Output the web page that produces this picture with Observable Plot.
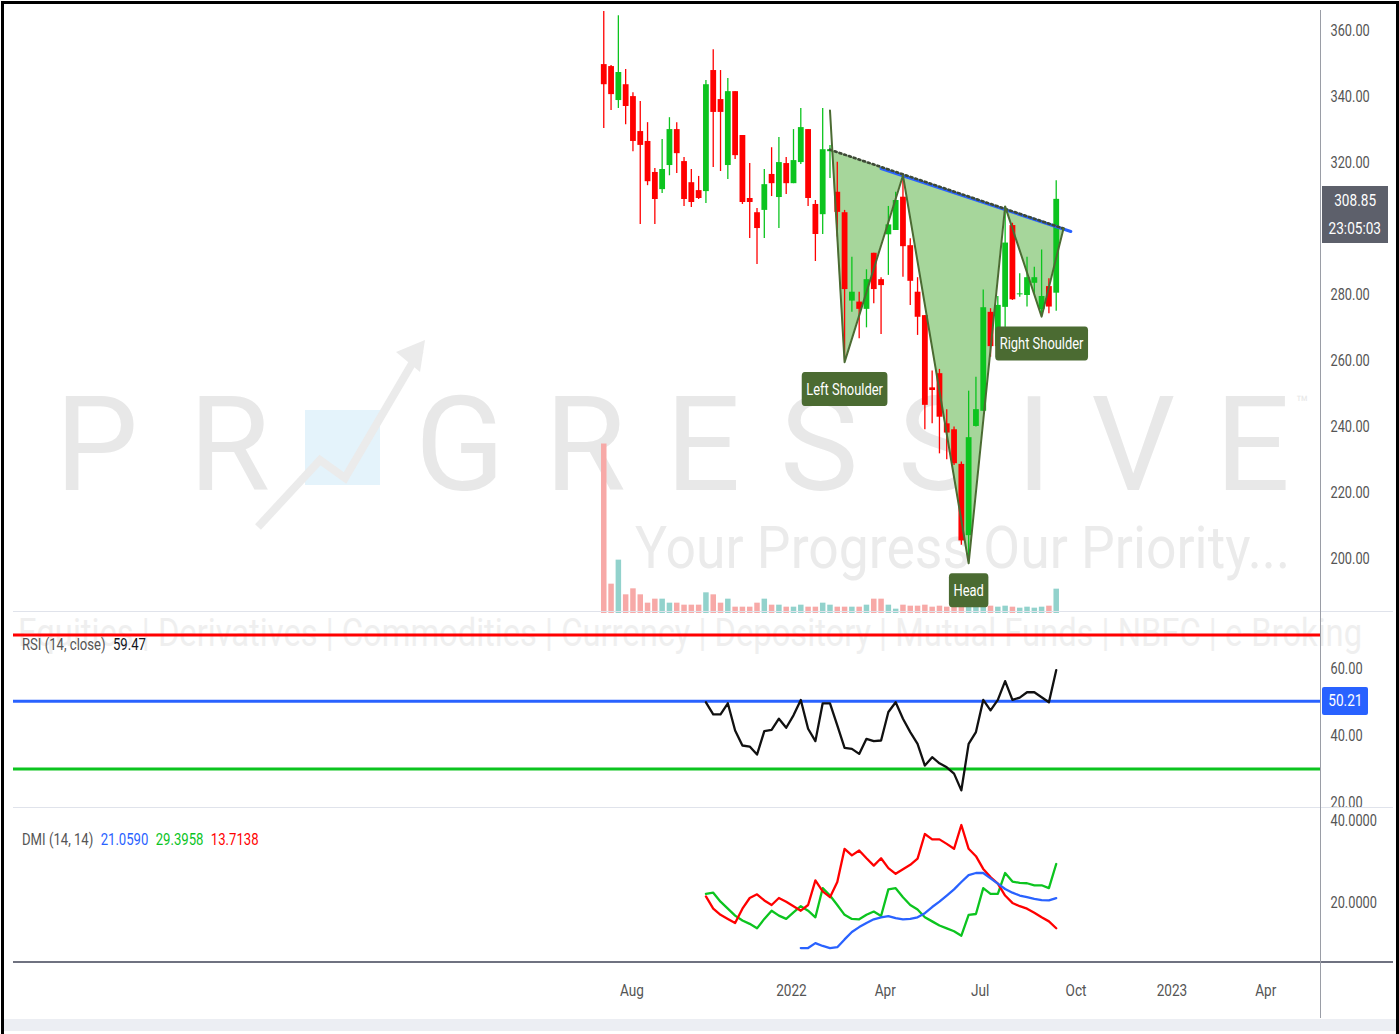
<!DOCTYPE html>
<html><head><meta charset="utf-8">
<script src="https://cdn.jsdelivr.net/npm/d3@7"></script>
<script src="https://cdn.jsdelivr.net/npm/@observablehq/plot@0.6"></script>
<style>
html,body{margin:0;padding:0;background:#fff;}
#root{position:relative;width:1399px;height:1034px;overflow:hidden;background:#fff;font-family:Roboto,sans-serif;}
.abs{position:absolute;}
.panel svg{overflow:hidden;display:block;}
.legend{position:absolute;left:22px;font-size:16px;color:#555;white-space:nowrap;z-index:3;transform:scaleX(0.82);transform-origin:0 0;}
.legend span{margin-left:9px;}
.tag{position:absolute;color:#fff;font-size:16px;text-align:center;z-index:3;line-height:27px;}
.tag span{display:inline-block;transform:scaleX(0.8);}
</style></head>
<body><div id="root"></div>
<script>
// ---------------- DATA ----------------
const weekStart = "2021-07-05"; // first weekly candle (Monday)
const opens  = [349.7,349.1,338.8,343.6,340.0,329.4,326.4,317.0,311.8,319.1,
                330.0,320.3,313.9,311.5,311.2,347.9,339.1,319.1,341.5,328.2,
                309.1,304.8,305.5,316.4,309.4,319.7,313.6,320.0,330.0,307.3,
                304.2,323.3,311.0,304.8,278.0,277.7,275.5,292.5,284.5,298.1,
                299.4,309.5,294.8,280.7,273.6,251.7,256.0,240.8,239.0,228.5,
                206.9,240.0,244.6,274.6,264.2,276.1,300.9,279.9,279.7,283.4,
                275.4,282.4,280.4];
const highs  = [365.8,349.4,364.5,348.2,341.2,338.5,332.1,318.2,327.0,333.6,
                332.1,321.5,317.9,315.8,344.9,354.2,347.9,345.5,341.5,328.2,
                319.7,306.1,317.9,324.5,327.6,321.5,330.0,336.4,330.0,308.5,
                336.4,325.2,320.1,305.5,291.3,280.7,287.5,292.5,285.1,306.7,
                311.0,316.1,296.9,285.1,273.6,256.8,257.3,245.1,239.8,229.2,
                250.7,254.9,281.4,275.7,279.4,306.7,301.6,286.3,291.3,288.3,
                293.5,284.8,314.5];
const lows   = [330.3,335.8,336.4,331.5,323.3,301.2,313.0,301.2,310.6,316.0,
                316.7,306.7,306.4,308.8,307.6,318.5,317.3,314.9,320.9,307.3,
                297.0,289.1,297.0,309.7,300.0,310.3,313.6,319.4,306.7,290.0,
                298.2,315.2,297.4,260.0,274.6,266.6,269.9,277.2,267.9,285.8,
                299.4,285.2,276.7,267.6,239.0,240.8,231.7,229.9,228.2,204.0,
                198.6,239.8,244.6,261.0,263.0,262.2,278.2,279.2,276.2,280.2,
                273.6,274.2,274.9];
const closes = [343.6,340.6,347.3,337.0,326.4,325.2,314.2,308.8,317.9,330.0,
                322.7,308.8,307.9,309.1,343.6,335.2,335.2,341.5,322.1,307.9,
                307.9,300.0,313.3,313.6,320.0,313.6,320.6,330.6,309.1,298.2,
                323.9,323.9,304.9,281.5,280.7,275.5,284.5,281.5,282.7,301.1,
                308.5,294.5,284.0,273.1,246.4,250.9,242.8,238.0,228.7,205.3,
                236.6,245.1,276.0,264.2,276.7,295.6,278.4,280.2,285.1,285.1,
                279.4,276.2,308.85];
const volumes = [2540,440,800,280,370,280,155,215,215,155,
                 155,125,125,125,310,280,155,215,95,95,
                 95,155,215,125,125,95,95,125,95,95,
                 155,125,95,95,95,95,125,215,215,125,
                 65,125,110,110,125,95,110,95,95,140,
                 125,95,110,110,95,110,95,80,95,80,
                 95,110,365];

const rsiStartIndex = 14;
const rsiValues = [49.9,46.3,46.3,49.6,41.5,37.0,36.7,34.3,41.3,41.7,
                   45.0,42.3,46.0,50.6,42.0,38.3,49.6,49.6,43.0,36.3,
                   36.0,34.5,39.0,38.3,38.5,47.0,49.9,45.0,41.0,37.5,
                   31.0,33.5,31.7,30.5,28.6,23.6,37.5,41.0,50.6,47.5,
                   50.6,56.2,50.6,51.3,52.9,52.9,51.4,49.9,59.47];
const rsiLevels = [70, 50.21, 30];
const rsiLevelColors = ["#ff0000", "#2962ff", "#0cc41f"];

const diStartIndex = 14;
const plusDI  = [22.1,22.4,20.2,18.5,16.8,15.6,14.8,13.7,16.0,18.0,
                 16.8,16.0,17.6,19.1,18.0,16.4,23.5,21.7,19.4,17.0,
                 16.0,15.9,17.0,17.8,16.7,23.2,23.5,21.3,19.4,18.3,
                 16.4,15.4,14.4,13.7,13.0,11.9,17.0,17.2,23.5,22.1,
                 22.1,27.2,25.1,24.8,24.7,24.2,24.2,23.5,29.3958];
const minusDI = [21.5,18.5,17.0,16.0,15.0,18.5,21.1,22.0,20.5,19.4,
                 21.1,20.2,19.1,18.0,19.4,25.4,22.7,21.3,25.0,33.1,
                 31.5,32.7,30.8,29.0,30.8,28.4,27.0,28.1,29.2,30.7,
                 36.7,35.4,35.4,34.3,33.1,38.9,33.1,31.3,28.2,26.2,
                 24.6,21.7,19.9,19.1,18.5,17.5,16.4,15.4,13.7138];
const adxStartIndex = 27;
const adxValues = [8.9,8.9,10.1,9.4,8.9,9.1,11.0,12.8,14.0,15.0,
                   15.9,16.4,16.7,16.2,15.9,16.0,16.4,17.4,18.9,20.2,
                   21.7,23.2,25.0,26.7,27.2,27.2,25.9,24.6,23.3,22.4,
                   21.7,21.3,20.9,20.6,20.5,21.059];

// head & shoulders drawing
const zigDates  = ["2022-02-07","2022-02-21","2022-04-18","2022-06-20","2022-07-25","2022-08-29","2022-09-19"];
const zigPrices = [335.8,259.5,316.1,198.5,306.7,273.3,300.0];
const fillDates = ["2022-02-09","2022-02-21","2022-04-18","2022-06-20","2022-07-25","2022-08-29","2022-09-19"];
const fillLow   = [323.6,259.5,316.1,198.5,306.7,273.3,300.0];
const fillNeck  = [323.6,322.4,316.4,309.7,305.9,302.2,300.0];
const neckDates = ["2022-02-07","2022-09-19"];
const neckPrices = [323.9,300.0];
const trendDates = ["2022-03-28","2022-09-26"];
const trendPrices = [318.2,299.1];
const labelTexts = ["Left Shoulder","Head","Right Shoulder"];
const labelDates = ["2022-02-21","2022-06-20","2022-08-29"];
const labelPrices = [259.5,198.5,273.3];

const priceTicks = [200,220,240,260,280,300,320,340,360];
const rsiTicks = [20,40,60];
const dmiTicks = [20,40];
const timeTicks = ["2021-08-01","2022-01-01","2022-04-01","2022-07-01","2022-10-01","2023-01-01","2023-04-01"];
const lastPrice = 308.85, countdown = "23:05:03";
const rsiLegend = "59.47";
const dmiLegend = ["21.0590","29.3958","13.7138"];

// ---------------- BUILD ----------------
const UP = "#0cc41f", DOWN = "#ff0000";
const VOL_UP = "#92d2cc", VOL_DOWN = "#f7a9a7";
const FONT = 'Roboto,sans-serif';
const P = d => new Date(d + "T00:00:00Z");
const first = P(weekStart);
const dates = opens.map((_, i) => d3.utcDay.offset(first, 7 * i));
const candles = dates.map((date, i) => ({date, open: opens[i], high: highs[i], low: lows[i], close: closes[i], volume: volumes[i], up: closes[i] >= opens[i]}));
const rsiData = rsiValues.map((v, i) => ({date: dates[rsiStartIndex + i], v}));
const plusData = plusDI.map((v, i) => ({date: dates[diStartIndex + i], v}));
const minusData = minusDI.map((v, i) => ({date: dates[diStartIndex + i], v}));
const adxData = adxValues.map((v, i) => ({date: dates[adxStartIndex + i], v}));
const zig = zigDates.map((d, i) => ({date: P(d), v: zigPrices[i]}));
const fill = fillDates.map((d, i) => ({date: P(d), lo: fillLow[i], hi: fillNeck[i]}));
const neck = neckDates.map((d, i) => ({date: P(d), v: neckPrices[i]}));
const trend = trendDates.map((d, i) => ({date: P(d), v: trendPrices[i]}));
const labels = labelTexts.map((t, i) => ({t, date: P(labelDates[i]), v: labelPrices[i]}));

// layout
const W = 1399, LEFT = 13, RIGHT = 1320;
const anchor = Date.UTC(2022, 0, 3), anchorPx = 793, pxPerDay = 1.0425;
const xOpt = {type: "utc", range: [LEFT, RIGHT], axis: null,
  domain: [new Date(anchor - (anchorPx - LEFT) / pxPerDay * 864e5), new Date(anchor + (RIGHT - anchorPx) / pxPerDay * 864e5)]};
const baseStyle = {background: "transparent", fontFamily: FONT, fontSize: "16px", color: "#555", overflow: "hidden"};
const yAxisCommon = {axis: "right", tickSize: 0, tickPadding: 10, label: null};

const root = document.getElementById("root");
function place(svg, top, h, z) {
  const d = document.createElement("div");
  d.className = "abs panel";
  d.style.cssText = `left:0;top:${top}px;width:${W}px;height:${h}px;z-index:${z}`;
  d.appendChild(svg); root.appendChild(d); return d;
}
function hline(top, color, h, left, width) {
  const d = document.createElement("div"); d.className = "abs";
  d.style.cssText = `left:${left}px;top:${top}px;width:${width}px;height:${h}px;background:${color};z-index:2`;
  root.appendChild(d);
}
// narrow the tick labels like the reference's condensed font
function condense(svg, k) {
  d3.select(svg).selectAll('g[aria-label$="tick label"] text').each(function () {
    this.setAttribute("transform", (this.getAttribute("transform") || "") + ` scale(${k},1)`);
  });
}

// watermark (decoration)
root.insertAdjacentHTML("beforeend", `
<svg class="abs" style="left:0;top:0;z-index:0" width="1399" height="1034">
  <rect x="305" y="410" width="75" height="75" fill="#e4f3fb"/>
  <polyline points="258,527 320,460 345,478 420,350" fill="none" stroke="#ebebeb" stroke-width="8"/>
  <polygon points="425,340 396,352 420,372" fill="#ebebeb"/>
  <g fill="#e8e8e8" font-family="Roboto,sans-serif" font-weight="400">
    <text x="55" y="490" font-size="132" textLength="215" lengthAdjust="spacing">PR</text>
    <text x="415" y="490" font-size="132" textLength="875" lengthAdjust="spacing">GRESSIVE</text>
    <text x="1296" y="410" font-size="20">™</text>
    <text x="635" y="568" font-size="60" fill="#ebebeb" textLength="655" lengthAdjust="spacingAndGlyphs">Your Progress Our Priority...</text>
    <text x="18" y="646" font-size="38" fill="#efefef" textLength="1344" lengthAdjust="spacingAndGlyphs">Equities | Derivatives | Commodities | Currency | Depository | Mutual Funds | NBFC | e-Broking</text>
  </g>
</svg>`);

// frame
const frame = document.createElement("div"); frame.className = "abs";
frame.style.cssText = "left:1px;top:1px;width:1392px;height:1040px;border:3px solid #000;z-index:5;pointer-events:none";
root.appendChild(frame);
hline(1019, "#eceef3", 12, 4, 1392);

// price panel
const priceTop = 10, priceH = 602;
const price = Plot.plot({
  width: W, height: priceH, marginTop: 0, marginBottom: 0, marginLeft: LEFT, marginRight: W - RIGHT,
  x: xOpt,
  y: {domain: [183.6, 366.1], ticks: priceTicks, tickFormat: d => d.toFixed(2), ...yAxisCommon},
  color: {type: "identity"},
  style: baseStyle,
  marks: [
    Plot.areaY(fill, {x: "date", y1: "lo", y2: "hi", fill: "#a6d69b", curve: "linear"}),
    Plot.ruleX(candles, {x: "date", y1: "low", y2: "high", stroke: d => d.up ? UP : DOWN, strokeWidth: 1.3}),
    Plot.ruleX(candles, {x: "date", y1: "open", y2: "close", stroke: d => d.up ? UP : DOWN, strokeWidth: 5.8}),
    Plot.line(trend, {x: "date", y: "v", stroke: "#2962ff", strokeWidth: 3}),
    Plot.line(neck, {x: "date", y: "v", stroke: "#3e4a36", strokeWidth: 2.6, strokeDasharray: "2 3"}),
    Plot.line(zig, {x: "date", y: "v", stroke: "#4b6b32", strokeWidth: 2}),
    Plot.text(labels, {x: "date", y: "v", text: "t", dy: 27, fill: "#fff", fontSize: 17})
  ]
});
place(price, priceTop, priceH, 1);
condense(price, 0.8);
// label boxes behind the annotation texts
d3.select(price).selectAll('g[aria-label="text"] text').each(function () {
  const tr = (this.getAttribute("transform") || "") + " scale(0.76,1)";
  this.setAttribute("transform", tr);
  const b = this.getBBox();
  const cy = b.y + b.height / 2;
  const r = document.createElementNS("http://www.w3.org/2000/svg", "rect");
  r.setAttribute("transform", tr);
  r.setAttribute("x", b.x - 6); r.setAttribute("width", b.width + 12);
  r.setAttribute("y", cy - 17); r.setAttribute("height", 34);
  r.setAttribute("rx", 4); r.setAttribute("fill", "#4b6b32");
  this.parentNode.insertBefore(r, this);
});

// volume overlay (behind candles)
const volH = 603;
const vol = Plot.plot({
  width: W, height: volH, marginTop: 0, marginBottom: 0, marginLeft: LEFT, marginRight: W - RIGHT,
  x: xOpt, y: {domain: [0, 9041], axis: null}, color: {type: "identity"}, style: baseStyle,
  marks: [Plot.ruleX(candles, {x: "date", y1: 0, y2: "volume", stroke: d => d.up ? VOL_UP : VOL_DOWN, strokeWidth: 5.5})]
});
place(vol, priceTop, volH, 0);

// RSI panel
const rsiTop = 612, rsiH = 196;
const rsi = Plot.plot({
  width: W, height: rsiH, marginTop: 0, marginBottom: 0, marginLeft: LEFT, marginRight: W - RIGHT,
  x: xOpt, y: {domain: [18.2, 76.7], ticks: rsiTicks, tickFormat: d => d.toFixed(2), ...yAxisCommon},
  color: {type: "identity"}, style: baseStyle,
  marks: [
    Plot.ruleY(rsiLevels, {y: d => d, stroke: (d, i) => rsiLevelColors[i], strokeWidth: 3}),
    Plot.line(rsiData, {x: "date", y: "v", stroke: "#111", strokeWidth: 2.3})
  ]
});
place(rsi, rsiTop, rsiH, 1);
condense(rsi, 0.8);

// DMI panel
const dmiTop = 808, dmiH = 154;
const dmi = Plot.plot({
  width: W, height: dmiH, marginTop: 0, marginBottom: 0, marginLeft: LEFT, marginRight: W - RIGHT,
  x: xOpt, y: {domain: [5.37, 42.93], ticks: dmiTicks, tickFormat: d => d.toFixed(4), ...yAxisCommon},
  style: baseStyle,
  marks: [
    Plot.line(plusData, {x: "date", y: "v", stroke: UP, strokeWidth: 2.3}),
    Plot.line(minusData, {x: "date", y: "v", stroke: DOWN, strokeWidth: 2.3}),
    Plot.line(adxData, {x: "date", y: "v", stroke: "#2962ff", strokeWidth: 2.3})
  ]
});
place(dmi, dmiTop, dmiH, 1);
condense(dmi, 0.8);

// time axis
const axTop = 962, axH = 56;
const ax = Plot.plot({
  width: W, height: axH, marginTop: 0, marginBottom: axH, marginLeft: LEFT, marginRight: W - RIGHT,
  x: {...xOpt, axis: "bottom", ticks: timeTicks.map(P), tickSize: 0, tickPadding: 21, label: null,
      tickFormat: d => d.getUTCMonth() === 0 ? String(d.getUTCFullYear()) : d3.utcFormat("%b")(d)},
  style: {...baseStyle, fontSize: "17px"},
  marks: []
});
place(ax, axTop, axH, 1);
condense(ax, 0.8);

// separators / axis line
hline(611, "#e0e3eb", 1, LEFT, 1380);
hline(807, "#e0e3eb", 1, LEFT, 1380);
hline(961, "#6f7280", 2, LEFT, 1380);
const vline = document.createElement("div"); vline.className = "abs";
vline.style.cssText = "left:1320px;top:10px;width:1px;height:1008px;background:#9a9da6;z-index:2";
root.appendChild(vline);

// legends
root.insertAdjacentHTML("beforeend",
  `<div class="legend" style="top:635px">RSI (14, close)<span style="color:#131722">${rsiLegend}</span></div>
   <div class="legend" style="top:830px">DMI (14, 14)<span style="color:#2962ff">${dmiLegend[0]}</span><span style="color:#0cc41f">${dmiLegend[1]}</span><span style="color:#ff0000">${dmiLegend[2]}</span></div>`);

// last price tag and RSI level tag, positioned with the plots' own scales
const yLast = priceTop + price.scale("y").apply(lastPrice);
root.insertAdjacentHTML("beforeend",
  `<div class="tag" style="left:1322px;top:${yLast - 13}px;width:66px;height:57px;background:#5d606b;line-height:28px;font-size:17px"><span>${lastPrice.toFixed(2)}</span><br><span>${countdown}</span></div>`);
const yRsi = rsiTop + rsi.scale("y").apply(rsiLevels[1]);
root.insertAdjacentHTML("beforeend",
  `<div class="tag" style="left:1322px;top:${yRsi - 14}px;width:46px;height:28px;background:#2962ff;border-radius:2px;font-size:17px"><span>${rsiLevels[1].toFixed(2)}</span></div>`);
</script></body></html>
